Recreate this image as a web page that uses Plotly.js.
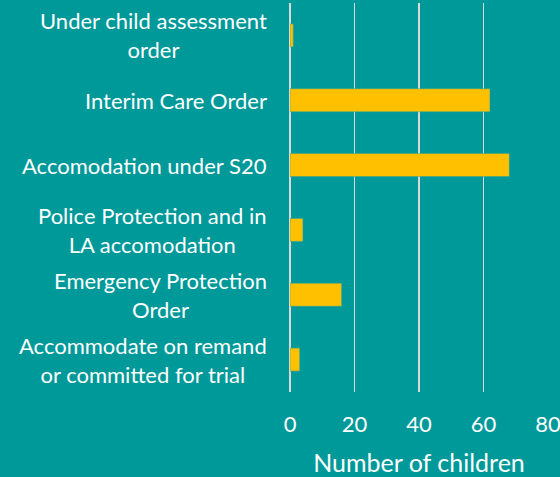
<!DOCTYPE html>
<html><head><meta charset="utf-8">
<script src="https://cdn.plot.ly/plotly-3.0.1.min.js"></script>
<style>html,body{margin:0;padding:0;background:#009999;overflow:hidden;}#c{width:560px;height:477px;}</style>
</head><body><div id="c"></div>
<script>
const categories = [
  "Under child assessment<br>order",
  "Interim Care Order",
  "Accomodation under S20",
  "Police Protection and in<br>LA accomodation",
  "Emergency Protection<br>Order",
  "Accommodate on remand<br>or committed for trial"
];
const values = [1, 62, 68, 4, 16, 3];
const xTicks = [0, 20, 40, 60, 80];
const xTitle = "Number of children";

const FONT = "Lato, 'Open Sans', sans-serif";
const trace = {
  type: "bar", orientation: "h",
  x: values, y: categories.map((c, i) => i),
  marker: {color: "#FFC000", line: {color: "#2aa39a", width: 0.5}},
  hoverinfo: "x"
};
const annotations = categories.map((c, i) => ({
  text: c, xref: "paper", yref: "y", x: -0.081, y: i,
  xanchor: "right", yanchor: "middle", align: "center", showarrow: false,
  font: {family: FONT, size: 22, color: "#ffffff"}
}));
const layout = {
  width: 560, height: 477,
  paper_bgcolor: "#009999", plot_bgcolor: "#009999",
  margin: {l: 290, r: 12, t: 3, b: 85},
  bargap: 0.645,
  showlegend: false,
  font: {family: FONT, color: "#ffffff", size: 22},
  xaxis: {
    range: [0, 80], tickvals: xTicks, ticktext: xTicks.map(String),
    showgrid: true, gridcolor: "#d9d9d9", gridwidth: 1.5,
    zeroline: true, zerolinecolor: "#d9d9d9", zerolinewidth: 1.5,
    showline: false, ticks: "", ticklabelstandoff: 17, ticklabeloverflow: "allow",
    tickfont: {family: FONT, size: 22, color: "#ffffff"},
    title: {text: xTitle, font: {family: FONT, size: 25, color: "#ffffff"}, standoff: 18},
    fixedrange: true
  },
  yaxis: {
    range: [5.5, -0.5], showticklabels: false, showgrid: false, zeroline: false,
    showline: false, ticks: "", fixedrange: true
  },
  annotations: annotations
};
Plotly.newPlot("c", [trace], layout, {displayModeBar: false, staticPlot: true});
</script></body></html>
